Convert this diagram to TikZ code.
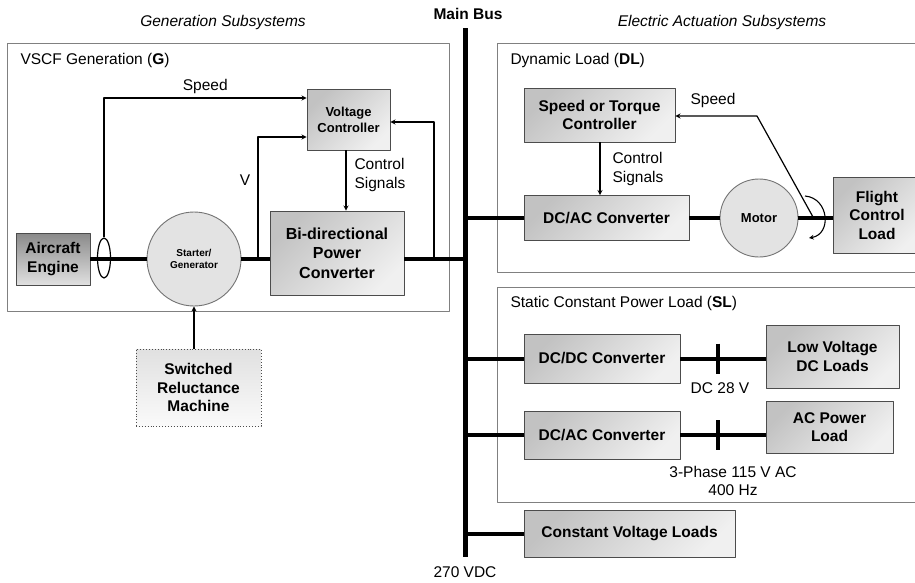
\documentclass[tikz,border=0pt]{standalone}
\usepackage{fontspec}
\setmainfont{Liberation Sans}
\usetikzlibrary{shapes.geometric}

\begin{document}
\begin{tikzpicture}[x=1pt, y=-1pt, line join=round, >=stealth,
	font=\fontsize{15.5}{18.5}\selectfont,
	blk/.style={draw=black!70, line width=0.9pt, top color=black!24, bottom color=black!6, shading angle=45, align=center, inner sep=1pt, font=\fontsize{15.5}{18.5}\selectfont\bfseries},
	dark/.style={blk, top color=black!46, bottom color=black!12},
	mach/.style={circle, draw=black!55, line width=0.9pt, fill=black!11, align=center, inner sep=0pt},
	grp/.style={draw=black!50, line width=1pt},
	power/.style={line width=4pt},
	sig/.style={->, line width=1.2pt}]
	\useasboundingbox (0,0) rectangle (915,582);
	\clip (0,0) rectangle (915,582);
	% frames and titles
	\draw[grp] (7,43) rectangle (449,311);
	\draw[grp] (497,43) rectangle (930,272);
	\draw[grp] (497,287) rectangle (930,502);
	\node (gentitle) at (223,22) {\itshape Generation Subsystems};
	\node (eatitle) at (722,22) {\itshape Electric Actuation Subsystems};
	\node (bustitle) at (468,14) {\bfseries Main Bus};
	\node (busvolt) at (465,572) {270 VDC};
	\node[anchor=west] (gname) at (17,60) {VSCF Generation (\textbf{G})};
	\node[anchor=west] (dlname) at (507,60) {Dynamic Load (\textbf{DL})};
	\node[anchor=west] (slname) at (507,303) {Static Constant Power Load (\textbf{SL})};
	% main bus
	\coordinate (bustop) at (465,28);
	\coordinate (busbot) at (465,557);
	\draw[line width=5pt] (bustop) -- (busbot);
	% generation
	\node[dark, minimum width=74pt, minimum height=52pt] (engine) at (53,259) {Aircraft\\Engine};
	\node[mach, minimum size=94pt, font=\fontsize{10}{12}\selectfont\bfseries] (gen) at (194,259) {Starter/\\Generator};
	\node[blk, minimum width=134pt, minimum height=84pt, font=\fontsize{16}{19.5}\selectfont\bfseries] (bpc) at (337,253) {Bi-directional\\Power\\Converter};
	\node[blk, minimum width=83pt, minimum height=61pt, font=\fontsize{13}{16}\selectfont\bfseries] (vc) at (348.5,119.5) {Voltage\\Controller};
	\node[blk, dotted, top color=black!12, bottom color=black!2, minimum width=125pt, minimum height=77pt] (srm) at (198.5,387.5) {Switched\\Reluctance\\Machine};
	\draw[power] (engine) -- (gen);
	\draw[power] (gen.east) -- (gen.east -| bpc.west);
	\draw[power] (gen -| bpc.east) -- (gen -| bustop);
	\node[ellipse, draw, line width=1.2pt, minimum width=13pt, minimum height=40pt, inner sep=0pt] (ring) at (104,258) {};
	\draw[sig] (ring.north) |- ([yshift=21.5pt]vc.west) node[pos=0.75, above] (spd1) {Speed};
	\coordinate (vtap) at (258,259);
	\draw[sig] (vtap) |- ([yshift=-17.5pt]vc.west);
	\node (vlbl) at (245,180) {V};
	\coordinate (fbtap) at (434,259);
	\draw[sig] (fbtap) |- ([yshift=-2.5pt]vc.east);
	\draw[sig] (vc.south -| 346,0) -- (bpc.north -| 346,0);
	\node[right, align=left] (cs1) at (351,175) {Control\\Signals};
	\draw[sig] (srm.north -| gen) -- (gen.south);
	% dynamic load
	\node[blk, minimum width=151pt, minimum height=54pt] (stc) at (599.5,115) {Speed or Torque\\Controller};
	\node[blk, minimum width=165pt, minimum height=45pt] (dcac1) at (606.5,218) {DC/AC Converter};
	\node[mach, minimum size=78pt, font=\fontsize{13}{16}\selectfont\bfseries] (motor) at (759,218) {Motor};
	\node[blk, minimum width=88pt, minimum height=76pt] (fcl) at (877,215) {Flight\\Control\\Load};
	\draw[power] (dcac1 -| bustop) -- (dcac1.west);
	\draw[power] (dcac1.east) -- (motor.west);
	\draw[power] (motor.east) -- (motor.east -| fcl.west);
	\draw[sig] (stc.south -| 600,0) -- (dcac1.north -| 600,0);
	\node[right, align=left] (cs2) at (609,169) {Control\\Signals};
	\coordinate (shaft) at (813,217);
	\coordinate (knee) at (757,116);
	\draw[sig] (shaft) -- (knee) -- (knee -| stc.east);
	\node (spd2) at (713,100) {Speed};
	\draw[->, line width=1.1pt] (805,196) .. controls (829,198) and (832,234) .. (809,238);
	% static constant power load
	\node[blk, minimum width=156pt, minimum height=49pt] (dcdc) at (602,358.5) {DC/DC Converter};
	\node[blk, minimum width=133pt, minimum height=63pt] (lvdc) at (832.5,356.5) {Low Voltage\\DC Loads};
	\node[blk, minimum width=156pt, minimum height=48pt] (dcac2) at (602,435) {DC/AC Converter};
	\node[blk, minimum width=127pt, minimum height=52pt] (acpl) at (829.5,427) {AC Power\\Load};
	\node[blk, minimum width=211pt, minimum height=47pt] (cvl) at (629.5,533.5) {Constant Voltage Loads};
	\draw[power] (dcdc -| bustop) -- (dcdc.west);
	\draw[power] (dcdc.east) -- (dcdc.east -| lvdc.west);
	\draw[power] (dcac2 -| bustop) -- (dcac2.west);
	\draw[power] (dcac2.east) -- (dcac2.east -| acpl.west);
	\draw[power] (cvl -| bustop) -- (cvl.west);
	\coordinate (tick1) at (718,358.5);
	\coordinate (tick2) at (718,435);
	\draw[power] ([yshift=15pt]tick1) -- ([yshift=-15pt]tick1);
	\draw[power] ([yshift=15pt]tick2) -- ([yshift=-15pt]tick2);
	\node (v28) at (720,388) {DC 28 V};
	\node[align=center] (v115) at (733,481) {3-Phase 115 V AC\\400 Hz};
\end{tikzpicture}
\end{document}
